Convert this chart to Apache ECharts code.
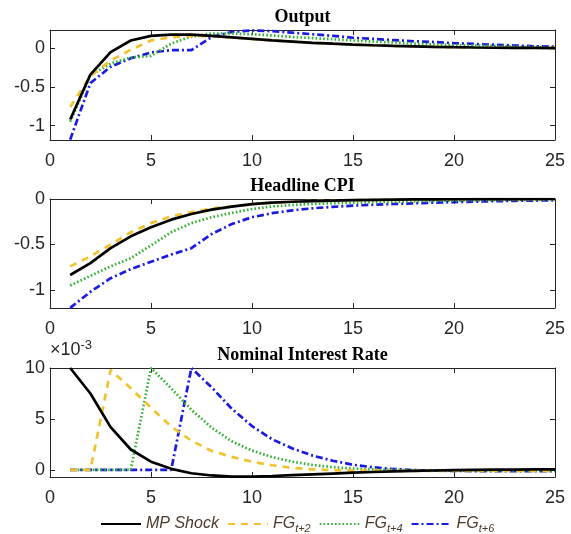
<!DOCTYPE html>
<html>
<head>
<meta charset="utf-8">
<script src="https://cdn.jsdelivr.net/npm/echarts@6/dist/echarts.min.js"></script>
<style>
  html, body { margin: 0; padding: 0; background: #fff; }
  #chart { width: 571px; height: 534px; }
</style>
</head>
<body>
<div id="chart"></div>
<script>
// quarters after the shock
var periods = [1,2,3,4,5,6,7,8,9,10,11,12,13,14,15,16,17,18,19,20,21,22,23,24,25];

// Output
var outMP  = [-0.92,-0.34,-0.05,0.10,0.16,0.175,0.175,0.16,0.14,0.12,0.1,0.085,0.07,0.058,0.047,0.038,0.03,0.024,0.018,0.013,0.009,0.006,0.004,0.003,0.002];
var outFG2 = [-0.76,-0.36,-0.16,-0.02,0.10,0.14,0.155,0.155,0.14,0.12,0.1,0.085,0.07,0.058,0.047,0.038,0.03,0.024,0.018,0.013,0.009,0.006,0.004,0.003,0.002];
var outFG4 = [-0.95,-0.35,-0.2,-0.12,-0.10,0.06,0.15,0.19,0.19,0.18,0.165,0.145,0.13,0.115,0.1,0.085,0.075,0.06,0.05,0.04,0.035,0.03,0.02,0.015,0.01];
var outFG6 = [-1.18,-0.45,-0.24,-0.13,-0.055,-0.025,-0.025,0.145,0.21,0.23,0.22,0.2,0.18,0.16,0.135,0.12,0.105,0.09,0.08,0.065,0.055,0.045,0.035,0.025,0.02];

// Headline CPI
var cpiMP  = [-0.835,-0.705,-0.54,-0.41,-0.31,-0.227,-0.165,-0.117,-0.084,-0.057,-0.04,-0.03,-0.023,-0.017,-0.013,-0.01,-0.007,-0.005,-0.004,-0.003,-0.002,-0.001,-0.001,0,0];
var cpiFG2 = [-0.74,-0.63,-0.50,-0.365,-0.265,-0.19,-0.143,-0.106,-0.08,-0.057,-0.04,-0.03,-0.023,-0.017,-0.013,-0.01,-0.007,-0.005,-0.004,-0.003,-0.002,-0.001,-0.001,0,0];
var cpiFG4 = [-0.95,-0.845,-0.74,-0.65,-0.51,-0.365,-0.265,-0.2,-0.153,-0.11,-0.082,-0.066,-0.055,-0.047,-0.041,-0.035,-0.03,-0.026,-0.022,-0.018,-0.015,-0.012,-0.01,-0.008,-0.007];
var cpiFG6 = [-1.195,-1.02,-0.87,-0.77,-0.69,-0.61,-0.54,-0.385,-0.275,-0.2,-0.155,-0.125,-0.102,-0.086,-0.073,-0.063,-0.055,-0.047,-0.04,-0.034,-0.029,-0.024,-0.02,-0.017,-0.014];

// Nominal interest rate, in units of 1e-3
var rateMP  = [10,7.5,4.2,2.0,0.8,0.1,-0.33,-0.55,-0.66,-0.66,-0.6,-0.52,-0.44,-0.36,-0.28,-0.21,-0.15,-0.1,-0.06,-0.03,0,0.02,0.03,0.04,0.05];
var rateFG2 = [0,0,9.8,8.0,6.1,4.25,2.87,1.86,1.27,0.8,0.45,0.2,0.05,-0.03,-0.07,-0.08,-0.09,-0.09,-0.09,-0.09,-0.09,-0.09,-0.09,-0.09,-0.09];
var rateFG4 = [0,0,0,0,10,8.0,5.9,4.15,2.8,1.9,1.25,0.8,0.48,0.27,0.13,0.05,0,-0.03,-0.05,-0.07,-0.08,-0.09,-0.1,-0.1,-0.1];
var rateFG6 = [0,0,0,0,0,0,10,8.1,6.0,4.3,3.0,2.1,1.4,0.9,0.5,0.25,0.08,-0.02,-0.07,-0.1,-0.12,-0.13,-0.13,-0.13,-0.13];

var titles = ['Output', 'Headline CPI', 'Nominal Interest Rate'];
var seriesNames = ['MP Shock', 'FG t+2', 'FG t+4', 'FG t+6'];
var panels = [
  [outMP, outFG2, outFG4, outFG6],
  [cpiMP, cpiFG2, cpiFG4, cpiFG6],
  [rateMP, rateFG2, rateFG4, rateFG6]
];
var yRanges = [[-1.185, 0.235, 3], [-1.197, 0, 2], [-0.7, 10, 2]];

var axisColor = '#262626';
var lineStyles = [
  { color: '#000000', type: 'solid' },
  { color: '#f2c12e', type: [7, 6] },
  { color: '#33b033', type: [1.6, 2.2] },
  { color: '#1a1ae0', type: [7, 3, 2, 3] }
];

var gridTops = [30, 199, 368];
var gridH = [110, 109, 109];

function pairs(ys) {
  return periods.map(function (t, i) { return [t, ys[i]]; });
}

var grid = [], xAxis = [], yAxis = [], series = [], title = [];
gridTops.forEach(function (top, g) {
  grid.push({ left: 50, right: 16, top: top, height: gridH[g] });
  title.push({
    text: titles[g], left: 302.5, textAlign: 'center', top: gridTops[g] - 22, padding: 0,
    textStyle: { fontFamily: 'Liberation Serif', fontWeight: 'bold', fontSize: 18, color: '#000' }
  });
  [false, true].forEach(function (top2) {
    xAxis.push({
      type: 'value', gridIndex: g, min: 0, max: 25, interval: 5,
      position: top2 ? 'top' : 'bottom',
      axisLine: { show: true, onZero: false, lineStyle: { color: axisColor, width: 1 } },
      axisTick: { show: true, inside: true, length: 5, lineStyle: { color: axisColor } },
      axisLabel: { show: !top2, margin: 12, fontFamily: 'Liberation Sans', fontSize: 18, color: axisColor },
      splitLine: { show: false }
    });
    var yr = yRanges[g];
    var ya = {
      type: 'value', gridIndex: g, min: yr[0], max: yr[1], splitNumber: yr[2],
      position: top2 ? 'right' : 'left',
      axisLine: { show: true, onZero: false, lineStyle: { color: axisColor, width: 1 } },
      axisTick: { show: true, inside: true, length: 5, lineStyle: { color: axisColor } },
      axisLabel: {
        show: !top2, margin: 5, showMinLabel: false, showMaxLabel: g !== 0,
        fontFamily: 'Liberation Sans', fontSize: 18, color: axisColor
      },
      splitLine: { show: false }
    };
    if (g === 2 && !top2) {
      ya.name = '×10{sup|-3}';
      ya.nameLocation = 'end';
      ya.nameGap = 4;
      ya.nameTextStyle = {
        align: 'left', fontFamily: 'Liberation Sans', fontSize: 18, color: axisColor,
        rich: { sup: { fontSize: 13, fontFamily: 'Liberation Sans', color: axisColor, padding: [0, 0, 10, 0] } }
      };
    }
    yAxis.push(ya);
  });
  panels[g].forEach(function (ys, k) {
    series.push({
      name: seriesNames[k], type: 'line', xAxisIndex: g * 2, yAxisIndex: g * 2,
      data: pairs(ys), symbol: 'none', clip: true, z: 10 - k,
      lineStyle: { color: lineStyles[k].color, type: lineStyles[k].type, width: 2.7 },
      itemStyle: { color: lineStyles[k].color }
    });
  });
});

var chart = echarts.init(document.getElementById('chart'), null, { renderer: 'canvas' });
chart.setOption({
  animation: false,
  backgroundColor: '#ffffff',
  title: title,
  grid: grid,
  xAxis: xAxis,
  yAxis: yAxis,
  legend: {
    data: seriesNames, left: 95, top: 511, itemWidth: 40, itemHeight: 14, itemGap: 8,
    itemStyle: { opacity: 0 },
    formatter: function (name) {
      if (name === 'MP Shock') return '{m|MP Shock}';
      return '{m|FG}{s|' + name.split(' ')[1] + '}';
    },
    textStyle: {
      fontFamily: 'Liberation Sans', fontStyle: 'italic', fontSize: 16, color: '#4b3a29',
      rich: {
        m: { fontFamily: 'Liberation Sans', fontStyle: 'italic', fontSize: 16, color: '#4b3a29' },
        s: { fontFamily: 'Liberation Sans', fontStyle: 'italic', fontSize: 11, color: '#4b3a29', padding: [10, 0, 0, 0] }
      }
    }
  },
  series: series
});
</script>
</body>
</html>
